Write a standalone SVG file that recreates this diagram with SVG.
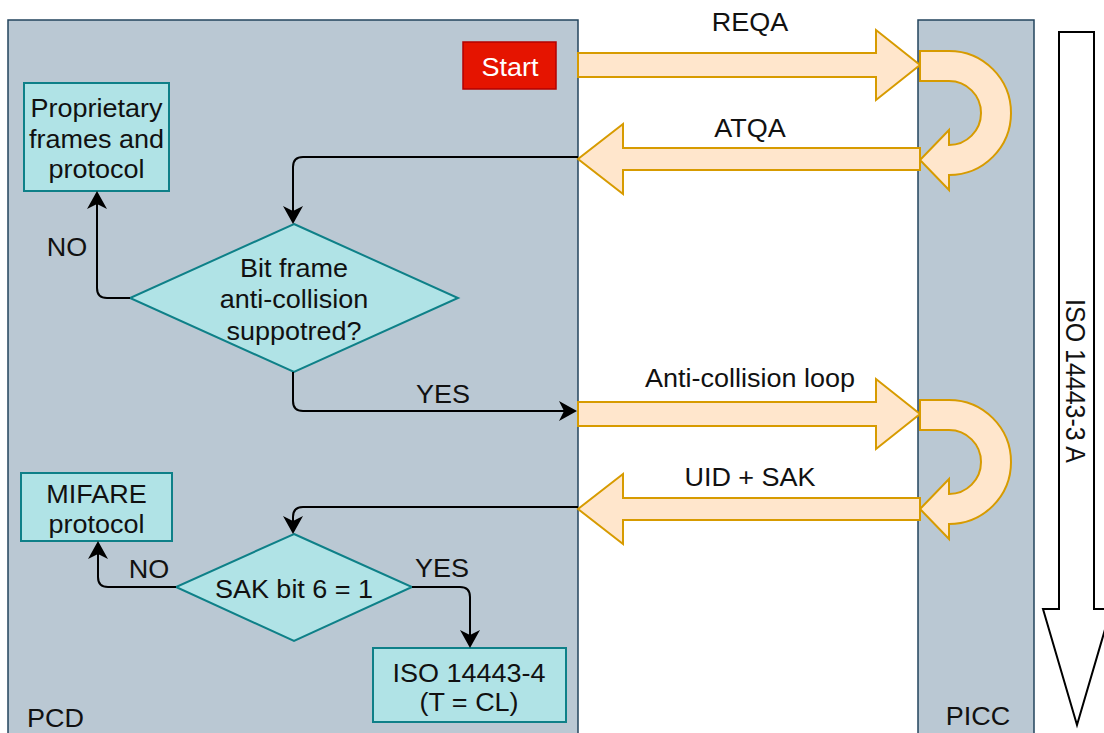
<svg xmlns="http://www.w3.org/2000/svg" width="1104" height="733" viewBox="0 0 1104 733">
  <style>
    .lane { fill: #bac8d3; stroke: #23445d; stroke-width: 1.5; }
    .proc { fill: #b0e3e6; stroke: #0e8088; stroke-width: 2; }
    .msg { fill: #ffe6cc; stroke: #d79b00; stroke-width: 2; stroke-linejoin: miter; }
    .flow { fill: none; stroke: #000; stroke-width: 2; }
    .t { font-family: "Liberation Sans", Arial, Helvetica, sans-serif; font-size: 25px; fill: #111; }
    .c { text-anchor: middle; }
    .w { fill: #fff; }
  </style>
  <defs>
    <!-- classic arrowhead; the path end sits at the notch, the tip lies 13px further on -->
    <marker id="arrow" viewBox="-6 -11 20 22" refX="0" refY="0" markerWidth="20" markerHeight="22" markerUnits="userSpaceOnUse" orient="auto">
      <path d="M13,0 L-5,-10 L0,0 L-5,10 Z" fill="#000"/>
    </marker>
  </defs>

  <!-- swimlanes -->
  <g id="lane-pcd">
    <rect class="lane" x="8" y="20" width="570" height="730"/>
    <text class="t" transform="translate(27 727) scale(1.08 1)">PCD</text>
  </g>
  <g id="lane-picc">
    <rect class="lane" x="918" y="20" width="116" height="730"/>
    <text class="t c" transform="translate(978 725) scale(1.08 1)">PICC</text>
  </g>

  <!-- protocol timeline -->
  <g id="iso-14443-3a">
    <path d="M1059 32 L1094 32 L1094 609 L1111 609 L1077 725 L1043 609 L1059 609 Z" fill="#fff" stroke="#000" stroke-width="2"/>
    <text class="t c" transform="translate(1076 381) scale(1.08 1) rotate(90)" y="9">ISO 14443-3 A</text>
  </g>

  <!-- message exchange arrows -->
  <g id="msg-reqa">
    <path class="msg" d="M578 53 L876 53 L876 30 L920 65 L876 100 L876 77 L578 77 Z"/>
    <text class="t c" transform="translate(750 31) scale(1.08 1)">REQA</text>
  </g>
  <g id="turn-reqa">
    <path class="msg" d="M920 51 L949 51 A62 62 0 0 1 949 175 L949 190 L920 160 L949 130 L949 145 A32 32 0 0 0 949 81 L920 81 Z"/>
  </g>
  <g id="msg-atqa">
    <path class="msg" d="M920 148 L623 148 L623 124 L578 159 L623 194 L623 170 L920 170 Z"/>
    <text class="t c" transform="translate(750 137) scale(1.08 1)">ATQA</text>
  </g>
  <g id="msg-anticoll">
    <path class="msg" d="M578 402 L876 402 L876 379 L920 414 L876 449 L876 426 L578 426 Z"/>
    <text class="t c" transform="translate(750 387) scale(1.08 1)">Anti-collision loop</text>
  </g>
  <g id="turn-anticoll">
    <path class="msg" d="M920 400 L949 400 A62 62 0 0 1 949 524 L949 539 L920 509 L949 479 L949 494 A32 32 0 0 0 949 430 L920 430 Z"/>
  </g>
  <g id="msg-uid-sak">
    <path class="msg" d="M920 498 L623 498 L623 474 L578 509 L623 544 L623 520 L920 520 Z"/>
    <text class="t c" transform="translate(750 486) scale(1.08 1)">UID + SAK</text>
  </g>

  <!-- PCD flowchart nodes -->
  <g id="start">
    <rect x="463" y="42" width="93" height="47" fill="#e51400" stroke="#b20000" stroke-width="1.5"/>
    <text class="t c w" transform="translate(510 76) scale(1.08 1)">Start</text>
  </g>
  <g id="proprietary">
    <rect class="proc" x="24" y="83" width="145" height="108"/>
    <text class="t c" transform="translate(96.5 117) scale(1.08 1)">Proprietary</text>
    <text class="t c" transform="translate(96.5 148) scale(1.08 1)">frames and</text>
    <text class="t c" transform="translate(96.5 178) scale(1.08 1)">protocol</text>
  </g>
  <g id="bitframe-decision">
    <path class="proc" d="M294 224 L458 298 L294 372 L130 298 Z"/>
    <text class="t c" transform="translate(294 277) scale(1.08 1)">Bit frame</text>
    <text class="t c" transform="translate(294 308) scale(1.08 1)">anti-collision</text>
    <text class="t c" transform="translate(294 340) scale(1.08 1)">suppotred?</text>
  </g>
  <g id="mifare">
    <rect class="proc" x="21" y="473" width="151" height="68"/>
    <text class="t c" transform="translate(96.5 503) scale(1.08 1)">MIFARE</text>
    <text class="t c" transform="translate(96.5 533) scale(1.08 1)">protocol</text>
  </g>
  <g id="sak-decision">
    <path class="proc" d="M294 534 L412 587 L294 641 L176 587 Z"/>
    <text class="t c" transform="translate(294 598) scale(1.08 1)">SAK bit 6 = 1</text>
  </g>
  <g id="iso-14443-4">
    <rect class="proc" x="373" y="648" width="193" height="74"/>
    <text class="t c" transform="translate(469 682) scale(1.08 1)">ISO 14443-4</text>
    <text class="t c" transform="translate(469 711) scale(1.08 1)">(T = CL)</text>
  </g>

  <!-- flowchart connectors and branch labels -->
  <g id="connectors">
    <path class="flow" d="M578 157 L303 157 Q293 157 293 167 L293 211" marker-end="url(#arrow)"/>
    <path class="flow" d="M130 298 L107 298 Q97 298 97 288 L97 204" marker-end="url(#arrow)"/>
    <path class="flow" d="M293 372 L293 401 Q293 411 303 411 L564 411" marker-end="url(#arrow)"/>
    <path class="flow" d="M578 507 L303 507 Q293 507 293 517 L293 521" marker-end="url(#arrow)"/>
    <path class="flow" d="M176 587 L108 587 Q98 587 98 577 L98 554" marker-end="url(#arrow)"/>
    <path class="flow" d="M412 587 L460 587 Q470 587 470 597 L470 635" marker-end="url(#arrow)"/>
    <text class="t c" transform="translate(67 256) scale(1.08 1)">NO</text>
    <text class="t c" transform="translate(443 403) scale(1.08 1)">YES</text>
    <text class="t c" transform="translate(149 578) scale(1.08 1)">NO</text>
    <text class="t c" transform="translate(442 577) scale(1.08 1)">YES</text>
  </g>
</svg>
